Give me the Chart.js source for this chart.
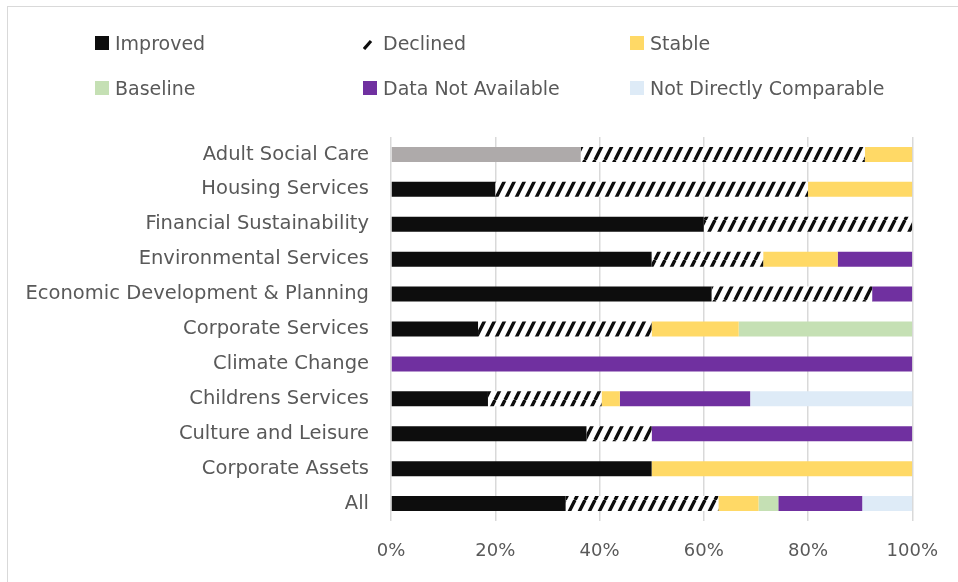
<!DOCTYPE html>
<html>
<head>
<meta charset="utf-8">
<script src="https://cdn.jsdelivr.net/npm/chart.js@4.4.1/dist/chart.umd.min.js"></script>
<style>
  html, body { margin: 0; padding: 0; background: #fff; overflow: hidden; }
  #wrap { position: relative; width: 958px; height: 582px; overflow: hidden; }
  #frame { position: absolute; left: 7px; top: 6px; width: 951px; height: 576px; border-left: 1px solid #d9d9d9; border-top: 1px solid #d9d9d9; box-sizing: border-box; }
  #chart { position: absolute; left: 0; top: 0; }
  .leg { position: absolute; font-family: "DejaVu Sans", sans-serif; font-size: 19px; color: #595959; line-height: 20px; white-space: nowrap; }
  .leg .box { position: absolute; left: 0; top: 3px; width: 14px; height: 14px; }
  .leg span.t { position: absolute; left: 20px; top: 0; }
</style>
</head>
<body>
<div id="wrap">
  <div id="frame"></div>
  <canvas id="chart" width="958" height="582"></canvas>
  <div id="legend"></div>
</div>
<script>
// categories, top to bottom
var categories = [
  'Adult Social Care', 'Housing Services', 'Financial Sustainability',
  'Environmental Services', 'Economic Development & Planning', 'Corporate Services',
  'Climate Change', 'Childrens Services', 'Culture and Leisure',
  'Corporate Assets', 'All'
];

// share of indicators, percent
var improved  = [36.4, 20, 60, 50,   61.5, 16.7, 0,   18.6, 37.5, 50, 33.5];
var declined  = [54.5, 60, 40, 21.4, 30.8, 33.3, 0,   21.8, 12.5, 0,  29.3];
var stable    = [9.1,  20, 0,  14.3, 0,    16.7, 0,   3.5,  0,    50, 7.7];
var baseline  = [0,    0,  0,  0,    0,    33.3, 0,   0,    0,    0,  3.8];
var notAvail  = [0,    0,  0,  14.3, 7.7,  0,    100, 25,   50,   0,  16.1];
var notComp   = [0,    0,  0,  0,    0,    0,    0,   31.5, 0,    0,  9.6];

var xTicks = [0, 20, 40, 60, 80, 100];

var seriesNames = ['Improved', 'Declined', 'Stable', 'Baseline', 'Data Not Available', 'Not Directly Comparable'];

// hatch for the "declined" series
function makeHatch() {
  var c = document.createElement('canvas');
  c.width = 10; c.height = 20;
  var g = c.getContext('2d');
  g.fillStyle = '#fff';
  g.fillRect(0, 0, 10, 20);
  g.strokeStyle = '#0d0d0d';
  g.lineWidth = 3.4;
  g.beginPath();
  g.moveTo(-5, 20); g.lineTo(5, 0);
  g.moveTo(5, 20); g.lineTo(15, 0);
  g.moveTo(-15, 20); g.lineTo(-5, 0);
  g.stroke();
  return c;
}
var hatchCanvas = makeHatch();
var ctx = document.getElementById('chart').getContext('2d');
var hatch = ctx.createPattern(hatchCanvas, 'repeat');

var improvedColors = categories.map(function (c, i) { return i === 0 ? '#aeaaaa' : '#0d0d0d'; });

var colors = ['#0d0d0d', hatch, '#ffd966', '#c5e0b4', '#7030a0', '#deebf7'];

var allData = [improved, declined, stable, baseline, notAvail, notComp];
var datasets = allData.map(function (d, i) {
  return {
    label: seriesNames[i],
    data: d,
    backgroundColor: i === 0 ? improvedColors : colors[i],
    borderWidth: 0,
    barPercentage: 0.43,
    categoryPercentage: 1
  };
});

// html legend, 3 columns x 2 rows
var legPos = [[95, 33], [363, 33], [630, 33], [95, 78], [363, 78], [630, 78]];
var legend = document.getElementById('legend');
seriesNames.forEach(function (name, i) {
  var d = document.createElement('div');
  d.className = 'leg';
  d.style.left = legPos[i][0] + 'px';
  d.style.top = legPos[i][1] + 'px';
  if (i === 1) {
    var ic = document.createElement('canvas');
    ic.width = 14; ic.height = 14;
    ic.className = 'box';
    var g = ic.getContext('2d');
    g.strokeStyle = '#0d0d0d';
    g.lineWidth = 3.2;
    g.beginPath(); g.moveTo(1, 13); g.lineTo(8, 5); g.stroke();
    d.appendChild(ic);
  } else {
    var b = document.createElement('div');
    b.className = 'box';
    b.style.background = colors[i];
    d.appendChild(b);
  }
  var t = document.createElement('span');
  t.className = 't';
  t.textContent = name;
  d.appendChild(t);
  legend.appendChild(d);
});

Chart.defaults.font.family = '"DejaVu Sans", sans-serif';
Chart.defaults.color = '#595959';

new Chart(ctx, {
  type: 'bar',
  data: { labels: categories, datasets: datasets },
  options: {
    indexAxis: 'y',
    responsive: false,
    animation: false,
    layout: { padding: { top: 137, right: 45, left: 0, bottom: 0 } },
    plugins: { legend: { display: false }, tooltip: { enabled: false } },
    scales: {
      x: {
        stacked: true,
        min: 0, max: 100,
        afterBuildTicks: function (s) { s.ticks = xTicks.map(function (v) { return { value: v }; }); },
        afterFit: function (s) { s.height = 61; },
        ticks: { font: { size: 18 }, padding: 20, callback: function (v) { return v + '%'; } },
        grid: { color: '#d9d9d9', lineWidth: 1.5, drawTicks: false },
        border: { display: false }
      },
      y: {
        stacked: true,
        afterFit: function (s) { s.width = 391; },
        ticks: { font: { size: 19.5 }, padding: 22 },
        grid: { display: false, drawTicks: false },
        border: { display: false }
      }
    }
  }
});
</script>
</body>
</html>
